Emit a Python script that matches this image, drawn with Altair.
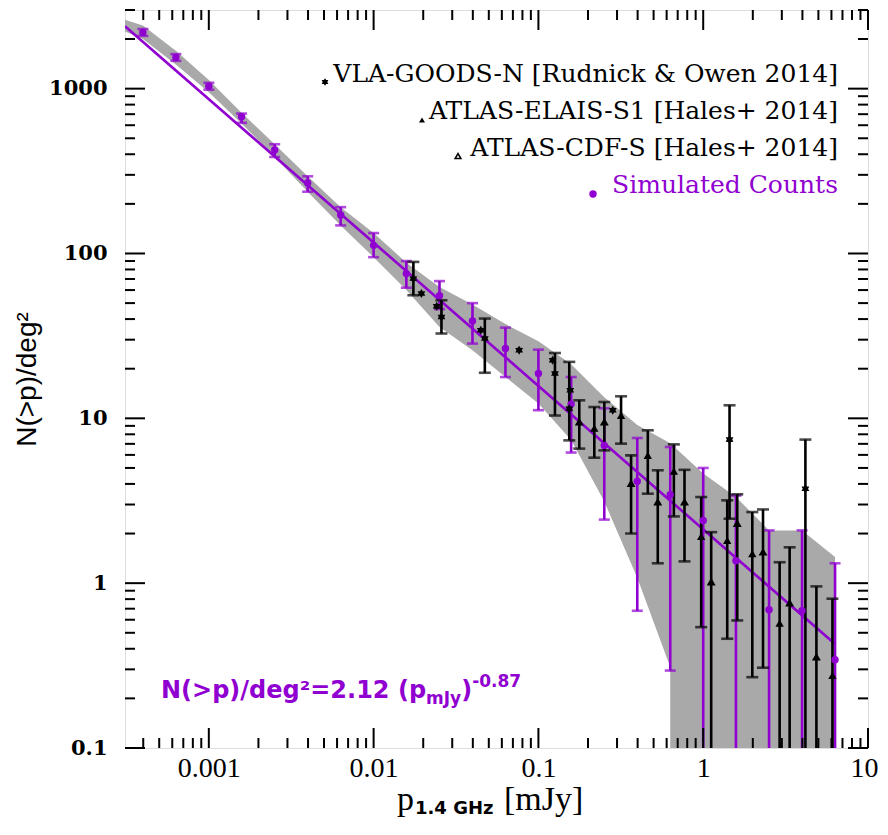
import math
import altair as alt
import pandas as pd

# ---------------- data ----------------
# Simulated counts (purple), with error bars; 0 in *_lo = bar runs off the bottom
sim_x = [0.000398, 0.000631, 0.001, 0.00158, 0.00251, 0.00398, 0.00631, 0.01,
         0.0158, 0.0251, 0.0398, 0.0631, 0.1, 0.158, 0.251, 0.398, 0.631,
         1.0, 1.58, 2.51, 3.98, 6.31]
sim_y = [2193, 1546, 1035, 675, 424, 268, 171, 112, 75.5, 55.4, 39.0, 26.5,
         18.7, 12.2, 6.85, 4.15, 3.44, 2.40, 1.37, 0.69, 0.68, 0.343]
sim_hi = [2300, 1620, 1085, 706, 460, 294, 191, 133, 90, 68, 50, 35.5,
          26.1, 17.8, 11.5, 7.6, 6.7, 5.0, 3.4, 2.09, 2.09, 1.32]
sim_lo = [2090, 1475, 985, 620, 385, 237, 148, 95, 62, 46, 28.4, 17.8,
          11.2, 6.2, 2.43, 0.68, 0.295, 0, 0, 0, 0, 0]

# grey envelope
band_x = [0.0003, 0.000398, 0.000631, 0.001, 0.00158, 0.00251, 0.00398, 0.00631, 0.01,
          0.0158, 0.0251, 0.0398, 0.0631, 0.1, 0.158, 0.251, 0.398, 0.6309, 0.631,
          1.0, 1.58, 2.51, 3.98, 6.31]
band_hi = [2650, 2420, 1700, 1130, 715, 460, 294, 191, 133, 88, 62.7, 49, 37.3,
           29.3, 21.3, 13.4, 9.1, 7.05, 7.05, 4.63, 3.33, 2.09, 2.09, 1.44]
band_lo = [2250, 2000, 1400, 950, 615, 385, 237, 148, 95, 60, 35.8, 25.9, 17.8,
           12.3, 7.4, 3.13, 1.08, 0.31, 0, 0, 0, 0, 0, 0]

# power-law fit N(>p)/deg^2 = 2.12 p^-0.87, end points as drawn
fit_x = [0.00031, 6.31]
fit_y = [2390, 0.427]

# VLA-GOODS-N [Rudnick & Owen 2014]  (None = no error bar)
vla_x = [0.01743, 0.0195, 0.02415, 0.0258, 0.0447, 0.0473, 0.0764, 0.122, 0.126,
         0.1539, 0.156, 0.2826, 1.445, 4.17]
vla_y = [70.4, 57.2, 47.8, 41.2, 34.2, 30.5, 25.9, 22.5, 18.7, 11.45, 14.8, 11.2, 7.43, 3.74]
vla_hi = [88.9, None, None, 52.0, None, 40.3, None, None, 24.9, 22.0, None, None, 12.0, 7.43]
vla_lo = [55.8, None, None, 32.7, None, 18.9, None, None, 10.4, 7.35, None, None, 2.46, 0]

# ATLAS-ELAIS-S1 [Hales+ 2014]
el_x = [0.2184, 0.3173, 0.4611, 0.6636, 0.9723, 1.399, 1.986, 2.909, 6.085]
el_y = [8.73, 10.43, 5.96, 4.79, 1.92, 1.82, 1.51, 0.572, 0.2755]
el_hi = [11.71, 13.6, 8.46, 6.95, 3.33, 3.18, 2.70, 1.34, 0.805]
el_lo = [5.77, 7.02, 3.49, 2.54, 0.541, 0.46, 0.269, 0, 0]

# ATLAS-CDF-S [Hales+ 2014]
cd_x = [0.177, 0.2512, 0.365, 0.530, 0.770, 1.118, 1.609, 2.306, 3.346, 4.863]
cd_y = [9.49, 9.49, 4.01, 3.10, 3.10, 1.015, 2.30, 1.54, 0.757, 0.356]
cd_hi = [12.86, 12.56, 5.96, 4.84, 4.87, 2.04, 3.46, 2.80, 1.65, 0.956]
cd_lo = [6.55, 6.39, 2.0, 1.32, 1.355, 0, 0.594, 0.307, 0, 0]

legend_labels = ["VLA-GOODS-N [Rudnick & Owen 2014]",
                 "ATLAS-ELAIS-S1 [Hales+ 2014]",
                 "ATLAS-CDF-S [Hales+ 2014]",
                 "Simulated Counts"]

x_major = [0.001, 0.01, 0.1, 1, 10]
y_major = [0.1, 1, 10, 100, 1000]

# ---------------- layout / style ----------------
W, H = 743, 738
X_DOMAIN = [0.00031, 10]
Y_DOMAIN = [0.1, 3000]
PURPLE = "#9000D0"
GREY = "#A9A9A9"
LOW = 0.01  # drawing value for things running below the axis (clipped)

x_minor = [m * 10.0 ** e for e in range(-4, 1) for m in range(2, 10)
           if X_DOMAIN[0] <= m * 10.0 ** e <= X_DOMAIN[1]]
y_minor = [m * 10.0 ** e for e in range(-1, 4) for m in range(2, 10)
           if Y_DOMAIN[0] <= m * 10.0 ** e <= Y_DOMAIN[1]]

xs = alt.Scale(type="log", domain=X_DOMAIN, nice=False)
ys = alt.Scale(type="log", domain=Y_DOMAIN, nice=False)

x_axis = alt.Axis(values=x_major, format="~g", ticks=False, tickSize=0, domain=False,
                  grid=False, labelFont="Liberation Serif", labelFontSize=28,
                  labelColor="black", labelPadding=6, labelFlush=False,
                  labelOverlap=False, labelBound=False, title=None,
                  labelOffset={"condition": {"test": "datum.value >= 10", "value": -4},
                               "value": 0})
y_axis = alt.Axis(values=y_major, format="~g", ticks=False, tickSize=0, domain=False,
                  grid=False, labelFont="DejaVu Serif", labelFontSize=21,
                  labelFontWeight="bold", labelColor="black", labelPadding=18,
                  labelFlush=False, labelOverlap=False,
                  title="N(>p)/deg²", titleFont="Liberation Sans", titleFontSize=28,
                  titleFontWeight="normal", titleColor="black", titleAngle=270,
                  titleX=-90, titleY=H / 2, titleAlign="center",
                  titleBaseline="alphabetic")


def X(f):
    return alt.X(f, type="quantitative", scale=xs, axis=x_axis)


def Y(f):
    return alt.Y(f, type="quantitative", scale=ys, axis=y_axis)


def err_df(x, y, hi, lo):
    rows = []
    for a, b, h, l in zip(x, y, hi, lo):
        rows.append({"x": a, "y": b, "hi": h, "lo": l,
                     "lo_d": (l if (l is not None and l > 0) else LOW),
                     "bar": h is not None,
                     "lcap": (l is not None and l > 0)})
    return pd.DataFrame(rows)


def err_layers(df, color, cap, sw):
    bars = df[df["bar"]]
    lc = df[df["lcap"]]
    r = alt.Chart(bars).mark_rule(color=color, strokeWidth=sw, clip=True).encode(
        x=X("x"), y=Y("lo_d"), y2="hi")
    t1 = alt.Chart(bars).mark_tick(color=color, orient="horizontal", size=cap,
                                   thickness=sw, clip=True).encode(x=X("x"), y=Y("hi"))
    t2 = alt.Chart(lc).mark_tick(color=color, orient="horizontal", size=cap,
                                 thickness=sw, clip=True).encode(x=X("x"), y=Y("lo"))
    return [r, t1, t2]


def star_path(n=6, r_in=0.6):
    pts = []
    for i in range(2 * n):
        r = 1 if i % 2 == 0 else r_in
        a = math.pi * i / n - math.pi / 2
        pts.append(f"{r * math.cos(a):.3f},{r * math.sin(a):.3f}")
    return "M" + "L".join(pts) + "Z"


STAR = star_path()


def text_layer(s, x, y, size, font, color="black", weight="normal",
               align="left", baseline="alphabetic"):
    return alt.Chart(alt.Data(values=[{"t": s}])).mark_text(
        align=align, baseline=baseline, font=font, fontSize=size,
        fontWeight=weight, color=color).encode(
        x=alt.value(x), y=alt.value(y), text="t:N")


def sym_layer(x, y, shape, size, color, filled=True, sw=1.5):
    return alt.Chart(alt.Data(values=[{"a": 1}])).mark_point(
        shape=shape, size=size, filled=filled, color=color, strokeWidth=sw,
        opacity=1).encode(x=alt.value(x), y=alt.value(y))


layers = []

# grey band
band = pd.DataFrame({"x": band_x, "hi": band_hi,
                     "lo": [v if v > 0 else LOW for v in band_lo]})
layers.append(alt.Chart(band).mark_area(color=GREY, opacity=1, clip=True).encode(
    x=X("x"), y=Y("hi"), y2="lo"))

# fit line
fit = pd.DataFrame({"x": fit_x, "y": fit_y})
layers.append(alt.Chart(fit).mark_line(color=PURPLE, strokeWidth=2.6, clip=True).encode(
    x=X("x"), y=Y("y")))

sim = err_df(sim_x, sim_y, sim_hi, sim_lo)
vla = err_df(vla_x, vla_y, vla_hi, vla_lo)
el = err_df(el_x, el_y, el_hi, el_lo)
cd = err_df(cd_x, cd_y, cd_hi, cd_lo)

layers += err_layers(sim, PURPLE, 11, 2.6)
layers += err_layers(vla, "black", 12, 2.6)
layers += err_layers(el, "black", 12, 2.6)
layers += err_layers(cd, "black", 12, 2.6)

layers.append(alt.Chart(sim).mark_point(shape="circle", filled=True, size=55,
                                        color=PURPLE, opacity=1, clip=True).encode(
    x=X("x"), y=Y("y")))
layers.append(alt.Chart(vla).mark_point(shape=STAR, filled=True, size=80,
                                        color="black", opacity=1, clip=True).encode(
    x=X("x"), y=Y("y")))
layers.append(alt.Chart(el).mark_point(shape="triangle-up", filled=True, size=70,
                                       color="black", opacity=1, clip=True).encode(
    x=X("x"), y=Y("y")))
layers.append(alt.Chart(cd).mark_point(shape="triangle-up", filled=False, size=30,
                                       color="black", strokeWidth=2, opacity=1,
                                       clip=True).encode(x=X("x"), y=Y("y")))

# inward frame ticks on all four sides
for vals, ln in ((x_major, 20), (x_minor, 10)):
    d = pd.DataFrame({"v": vals})
    layers.append(alt.Chart(d).mark_rule(color="black", strokeWidth=2).encode(
        x=X("v"), y=alt.value(H - ln), y2=alt.value(H)))
    layers.append(alt.Chart(d).mark_rule(color="black", strokeWidth=2).encode(
        x=X("v"), y=alt.value(0), y2=alt.value(ln)))
for vals, ln in ((y_major, 20), (y_minor, 10)):
    d = pd.DataFrame({"v": vals})
    layers.append(alt.Chart(d).mark_rule(color="black", strokeWidth=2).encode(
        y=Y("v"), x=alt.value(0), x2=alt.value(ln)))
    layers.append(alt.Chart(d).mark_rule(color="black", strokeWidth=2).encode(
        y=Y("v"), x=alt.value(W - ln), x2=alt.value(W)))

# legend (manual, top right)
LX = 713
rows_y = [64, 101, 137.5, 175]
for i, lab in enumerate(legend_labels):
    layers.append(text_layer(lab, LX, rows_y[i], 25, "DejaVu Serif",
                             color=(PURPLE if i == 3 else "black"),
                             align="right", baseline="middle"))
layers.append(sym_layer(200, 72, STAR, 60, "black"))
layers.append(sym_layer(297, 110, "triangle-up", 36, "black"))
layers.append(sym_layer(333, 146, "triangle-up", 32, "black", filled=False, sw=1.6))
layers.append(sym_layer(468, 184, "circle", 55, PURPLE))

# fit annotation:  N(>p)/deg²=2.12 (p_mJy)^-0.87   (DejaVu Sans Bold advance widths)
AW = {'N': 837, '(': 457, '>': 838, 'p': 716, ')': 457, '/': 365, 'd': 716, 'e': 678,
      'g': 716, '²': 438, '=': 838, '2': 696, '.': 380, '1': 696, ' ': 348, 'm': 1042,
      'J': 372, 'y': 652, '-': 415, '0': 696, '8': 696, '7': 696}


def tw(s, size):
    return sum(AW.get(c, 696) for c in s) * size / 1000.0


S1, S2 = 24, 17
ax0, ay0 = 36, 688
pA = "N(>p)/deg²=2.12 (p"
pB = "mJy"
pC = ")"
pD = "-0.87"
xB = ax0 + tw(pA, S1)
xC = xB + tw(pB, S2)
xD = xC + tw(pC, S1)
AF = "DejaVu Sans"
layers.append(text_layer(pA, ax0, ay0, S1, AF, PURPLE, "bold"))
layers.append(text_layer(pB, xB, ay0 + 6, S2, AF, PURPLE, "bold"))
layers.append(text_layer(pC, xC, ay0, S1, AF, PURPLE, "bold"))
layers.append(text_layer(pD, xD, ay0 - 11, S2, AF, PURPLE, "bold"))

# x-axis title:  p_{1.4 GHz} [mJy]
tx0, ty0 = 272, 800
layers.append(text_layer("p", tx0, ty0, 34, "Liberation Serif"))
layers.append(text_layer("1.4 GHz", tx0 + 18, ty0 + 4, 18, "DejaVu Sans",
                         weight="bold"))
layers.append(text_layer("[mJy]", tx0 + 107, ty0, 34, "Liberation Serif"))

chart = alt.layer(*layers).properties(
    width=W, height=H,
    padding={"left": 117, "top": 2, "right": 12, "bottom": 72},
    autosize=alt.AutoSizeParams(type="none"),
).configure_view(stroke="black", strokeWidth=2.5).configure(background="white")

chart.save("out.html", embed_options={"renderer": "svg", "actions": False})
